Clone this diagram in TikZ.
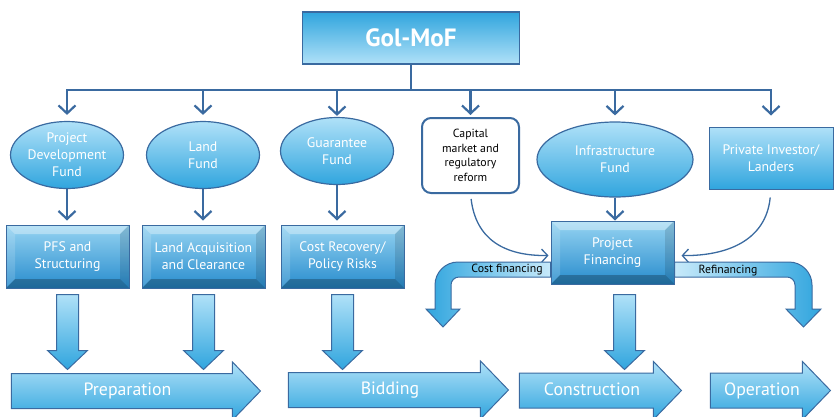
\documentclass[tikz,border=0pt]{standalone}
\usepackage{fontspec}
\setmainfont{PT Sans}
\usetikzlibrary{shapes.geometric, shapes.arrows, arrows.meta, positioning, calc}
\definecolor{edgeblue}{RGB}{58,106,160}
\definecolor{skylight}{RGB}{176,225,248}
\definecolor{skydark}{RGB}{48,165,222}
\definecolor{bevtop}{RGB}{150,212,242}
\definecolor{bevbot}{RGB}{40,140,205}

\tikzset{
  conn/.style={draw=edgeblue, line width=2.2pt},
  drop/.style={conn, -{Straight Barb[length=8pt,width=17pt]}},
  feed/.style={draw=edgeblue, line width=1.3pt, -{Straight Barb[length=6pt,width=13pt]}},
  topbox/.style={rectangle, draw=edgeblue, line width=1.4pt, top color=skydark, bottom color=skylight,
    text=white, font=\fontsize{25}{28}\selectfont\bfseries, minimum width=217pt, minimum height=52pt},
  fund/.style={ellipse, draw=edgeblue, line width=1.2pt, top color=skylight, bottom color=skydark,
    text=white, align=center, inner sep=0pt, font=\fontsize{13.8}{17}\selectfont},
  plainbox/.style={rectangle, rounded corners=9pt, draw=edgeblue, line width=2pt, fill=white,
    align=center, inner sep=0pt, font=\fontsize{11.8}{14.5}\selectfont,
    minimum width=97pt, minimum height=75pt},
  investbox/.style={rectangle, draw=edgeblue, line width=1pt, top color=skylight, bottom color=skydark,
    text=white, align=center, inner sep=0pt, font=\fontsize{13.8}{17}\selectfont,
    minimum width=124pt, minimum height=62pt},
  bevelbox/.style={rectangle, draw=edgeblue, line width=1pt, top color=bevtop, bottom color=bevbot,
    text=white, align=center, inner sep=0pt, font=\fontsize{13.8}{17}\selectfont,
    minimum width=123pt, minimum height=63pt,
    path picture={
      % bevel faces
      \fill[white,opacity=.35] (path picture bounding box.north west) -- (path picture bounding box.north east)
        -- ([xshift=-9pt,yshift=-9pt]path picture bounding box.north east)
        -- ([xshift=9pt,yshift=-9pt]path picture bounding box.north west) -- cycle;
      \fill[white,opacity=.15] (path picture bounding box.north west) -- ([xshift=9pt,yshift=-9pt]path picture bounding box.north west)
        -- ([xshift=9pt,yshift=9pt]path picture bounding box.south west) -- (path picture bounding box.south west) -- cycle;
      \fill[black,opacity=.12] (path picture bounding box.north east) -- ([xshift=-9pt,yshift=-9pt]path picture bounding box.north east)
        -- ([xshift=-9pt,yshift=9pt]path picture bounding box.south east) -- (path picture bounding box.south east) -- cycle;
      \fill[black,opacity=.25] (path picture bounding box.south west) -- ([xshift=9pt,yshift=9pt]path picture bounding box.south west)
        -- ([xshift=-9pt,yshift=9pt]path picture bounding box.south east) -- (path picture bounding box.south east) -- cycle;
    }},
  phase/.style={single arrow, draw=edgeblue, line width=1pt, top color=skylight, bottom color=skydark,
    text=white, font=\fontsize{17.8}{20}\selectfont, single arrow head extend=11.5pt,
    single arrow tip angle=92, text height=12pt, text depth=3pt, inner ysep=9.5pt, inner xsep=0pt},
  band/.style={draw=edgeblue, line width=1pt},
  tag/.style={text=black, inner sep=0pt, font=\fontsize{11.8}{13}\selectfont},
  sink/.pic={
    \draw[edgeblue, line width=1pt, top color=skylight, bottom color=skydark]
      (-11,0) -- (11,0) -- (11,56) -- (20,56) -- (0,75) -- (-20,56) -- (-11,56) -- cycle;
  }
}

\begin{document}
\begin{tikzpicture}[x=1pt, y=-1pt]
  \useasboundingbox (0,0) rectangle (835,416);

  % Top level
  \node[topbox] (mof) at (411,38) {Gol-MoF};
  \coordinate (bus) at (409,90);

  % Funds and sources
  \node[fund, minimum width=113pt, minimum height=67pt] (pdf) at (67,155) {Project\\Development\\Fund};
  \node[fund, minimum width=113pt, minimum height=67pt] (land) at (203,155) {Land\\Fund};
  \node[fund, minimum width=113pt, minimum height=67pt] (guar) at (337,151) {Guarantee\\Fund};
  \node[plainbox] (cap) at (470.5,155.5) {Capital\\market and\\regulatory\\reform};
  \node[fund, minimum width=156pt, minimum height=75pt] (infra) at (615,159.5) {Infrastructure\\Fund};
  \node[investbox] (priv) at (771,158) {Private Investor/\\Landers};

  % Risk boxes
  \node[bevelbox] (pfs) at (67.5,256.5) {PFS and\\Structuring};
  \node[bevelbox] (lac) at (203.5,256.5) {Land Acquisition\\and Clearance};
  \node[bevelbox] (crp) at (342.5,256.5) {Cost Recovery/\\Policy Risks};
  \node[bevelbox] (pf) at (612.5,252.5) {Project\\Financing};

  % Phases
  \node[phase, minimum height=249pt] (prep) at (127.5,391) {Preparation};
  \node[phase, minimum height=220pt] (bid) at (390,390) {Bidding};
  \node[phase, minimum height=162pt] (cons) at (592,390.5) {Construction};
  \node[phase, minimum height=120pt] (oper) at (762,390.5) {Operation};

  % Distribution from MoF
  \draw[conn] (mof.south) -- (mof.south |- bus);
  \draw[conn, line cap=rect] (bus -| pdf.north) -- (bus -| priv.north);
  \foreach \n/\gap in {pdf/6pt, land/6pt, guar/1pt, cap/2pt, infra/6pt, priv/11pt}
    \draw[drop, shorten >=\gap] (bus -| \n.north) -- (\n.north);

  % Funds to risk boxes
  \draw[drop, shorten >=4pt] (pdf.south) -- (pdf.south |- pfs.north);
  \draw[drop, shorten >=4pt] (land.south) -- (land.south |- lac.north);
  \draw[drop, shorten >=4pt] (guar.south) -- (guar.south |- crp.north);
  \draw[drop] (infra.south) -- (infra.south |- pf.north);

  % Capital market and investors into project financing
  \draw[feed, shorten <=5pt, shorten >=2pt] (cap.south) .. controls (476,240) and (505,256) .. ([yshift=-3pt]pf.west);
  \draw[feed, shorten <=8pt, shorten >=7pt] (priv.south) .. controls (766,240) and (728,256) .. ([yshift=-3pt]pf.east);

  % Cost financing and refinancing
  \draw[band, left color=skydark, right color=skylight!70!white]
    ([yshift=-9.5pt]pf.west) -- (458,262) .. controls (445.3,262) and (435,272.3) .. (435,285)
    -- (435,309) -- (426,309) -- (443,327) -- (460,309) -- (451,309) -- (451,285)
    .. controls (451,280.6) and (454.6,277) .. (459,277) -- ([yshift=-24.5pt]pf.west) -- cycle;
  \draw[band, left color=skylight!70!white, right color=skydark]
    ([yshift=-9.5pt]pf.east) -- (789,262) .. controls (801.7,262) and (812,272.3) .. (812,285)
    -- (812,309) -- (821,309) -- (803.5,327) -- (786,309) -- (795,309) -- (795,285)
    .. controls (795,280.6) and (791.4,277) .. (787,277) -- ([yshift=-24.5pt]pf.east) -- cycle;
  \node[tag] (cf) at (507,270) {Cost financing};
  \node[tag] (rf) at (728,271) {Refinancing};

  % Block arrows down to phases
  \pic at ([yshift=-6pt]pfs.south) {sink};
  \pic at ([yshift=-6pt]lac.south) {sink};
  \pic at ([yshift=-6pt]crp.south) {sink};
  \pic at ([xshift=12pt,yshift=-10pt]pf.south) {sink};
\end{tikzpicture}
\end{document}
